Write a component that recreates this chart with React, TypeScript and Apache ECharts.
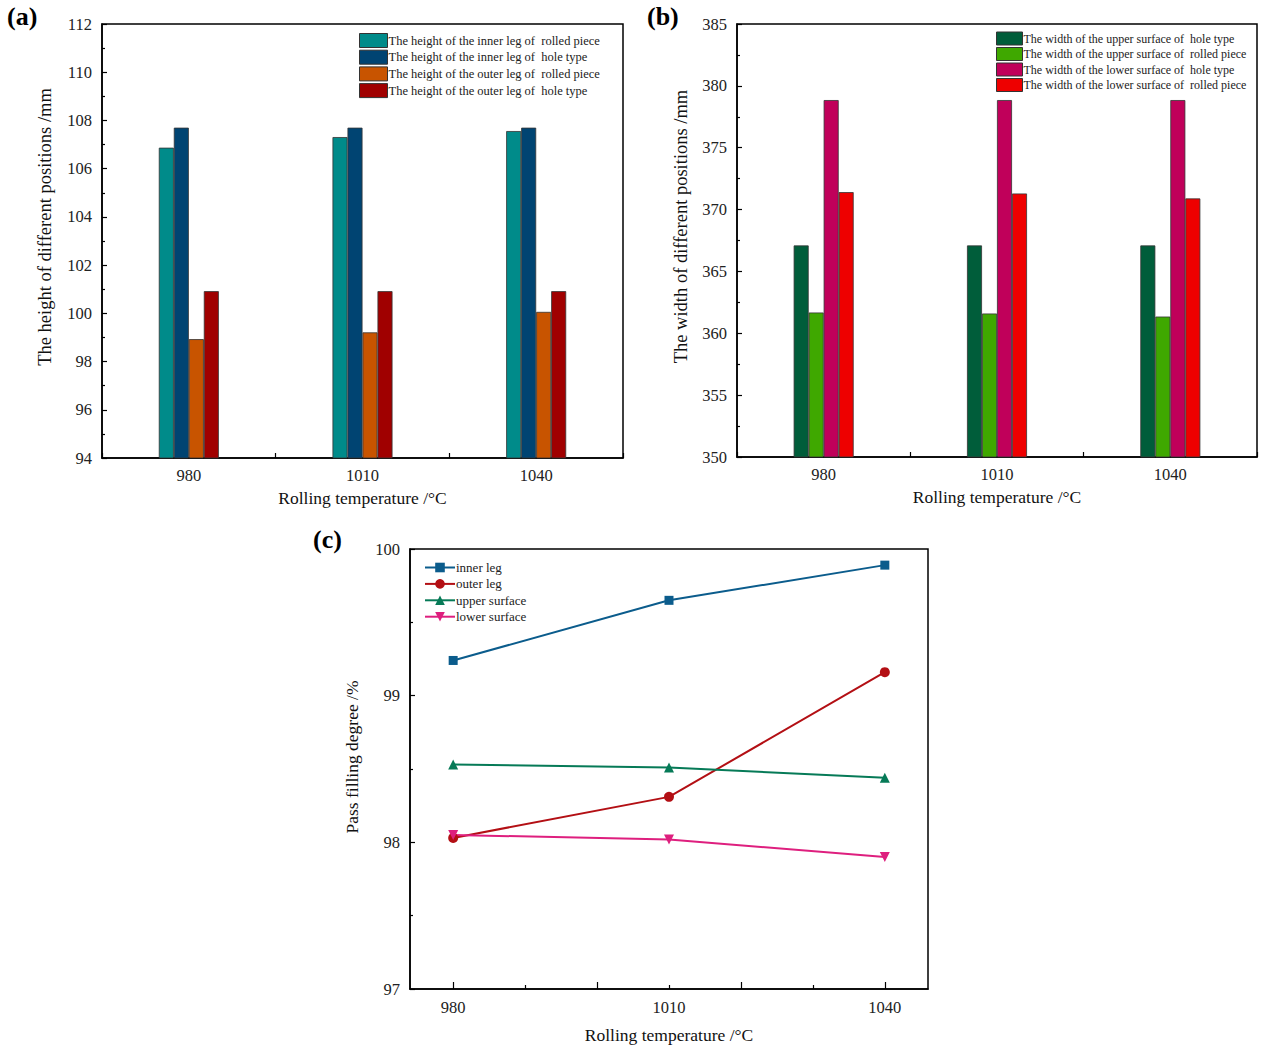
import React, { useEffect, useRef } from "react";
import * as echarts from "echarts";

const temps = ["980", "1010", "1040"];
const tempValues = [980, 1010, 1040];

const heightNames = [
  "The height of the inner leg of  rolled piece",
  "The height of the inner leg of  hole type",
  "The height of the outer leg of  rolled piece",
  "The height of the outer leg of  hole type",
];
const innerLegRolled = [106.87, 107.31, 107.56];
const innerLegHole = [107.7, 107.7, 107.7];
const outerLegRolled = [98.93, 99.21, 100.06];
const outerLegHole = [100.92, 100.92, 100.92];
const heightColors = ["#008B8A", "#004472", "#C85400", "#A00000"];

const widthNames = [
  "The width of the upper surface of  hole type",
  "The width of the upper surface of  rolled piece",
  "The width of the lower surface of  hole type",
  "The width of the lower surface of  rolled piece",
];
const upperHole = [367.1, 367.1, 367.1];
const upperRolled = [361.68, 361.6, 361.35];
const lowerHole = [378.85, 378.85, 378.85];
const lowerRolled = [371.41, 371.3, 370.9];
const widthColors = ["#005D3A", "#3FA800", "#C0005A", "#EE0000"];

const fillNames = ["inner leg", "outer leg", "upper surface", "lower surface"];
const fillInner = [99.24, 99.65, 99.89];
const fillOuter = [98.03, 98.31, 99.16];
const fillUpper = [98.53, 98.51, 98.44];
const fillLower = [98.05, 98.02, 97.9];
const fillColors = ["#0B5C8C", "#B30F14", "#067A57", "#DE1F7E"];
const fillSymbols = ["rect", "circle", "triangle", "path://M0,0 L10,0 L5,9 Z"];

const FONT = "Liberation Serif";

function pairs(vals: number[]) {
  return vals.map((v, i) => [tempValues[i], v]);
}

export default function App() {
  const ref = useRef<HTMLDivElement>(null);

  useEffect(() => {
    if (!ref.current) return;
    const chart = echarts.init(ref.current, null, { renderer: "svg" });

    const axisLine = { show: true, lineStyle: { color: "#000", width: 1.5 } };
    const labelStyle = { color: "#222", fontFamily: FONT, fontSize: 16.5 };
    const nameStyle = { color: "#111", fontFamily: FONT, fontSize: 17.5 };

    const barSeries = (name: string, data: number[], color: string, idx: number) => ({
      type: "bar",
      name,
      data,
      xAxisIndex: idx,
      yAxisIndex: idx,
      barWidth: 15,
      barGap: "0%",
      itemStyle: { color, borderColor: "#333", borderWidth: 0.8 },
    });

    const catAxis = (gridIndex: number) => ({
      type: "category",
      gridIndex,
      data: temps,
      name: "Rolling temperature /°C",
      nameLocation: "middle",
      nameGap: 31,
      nameTextStyle: nameStyle,
      axisLine,
      axisTick: { show: true, inside: true, length: 5, lineStyle: { color: "#000", width: 1.2 } },
      axisLabel: { ...labelStyle, margin: 9 },
      splitLine: { show: false },
    });

    const valAxis = (
      gridIndex: number,
      min: number,
      max: number,
      interval: number,
      name: string,
      nameGap: number,
      size: number,
      shift: number
    ) => ({
      type: "value",
      gridIndex,
      min,
      max,
      interval,
      name,
      nameLocation: "middle",
      nameGap,
      nameTextStyle: { ...nameStyle, fontSize: size, padding: [0, 0, 0, shift] },
      axisLine,
      axisTick: { show: true, inside: true, length: 5, lineStyle: { color: "#000", width: 1.2 } },
      minorTick: { show: true, splitNumber: 2, length: 3, lineStyle: { color: "#000", width: 1.2 } },
      axisLabel: { ...labelStyle, margin: 10 },
      splitLine: { show: false },
    });

    const gridBase = { show: true, borderColor: "#000", borderWidth: 1.5, backgroundColor: "transparent" };

    const option: any = {
      animation: false,
      backgroundColor: "#fff",
      textStyle: { fontFamily: FONT },
      grid: [
        { ...gridBase, left: 102, top: 24, width: 521, height: 434 },
        { ...gridBase, left: 737, top: 24, width: 520, height: 433 },
        { ...gridBase, left: 410, top: 549, width: 518, height: 440 },
      ],
      xAxis: [
        catAxis(0),
        catAxis(1),
        {
          type: "value",
          gridIndex: 2,
          min: 974,
          max: 1046,
          name: "Rolling temperature /°C",
          nameLocation: "middle",
          nameGap: 37,
          nameTextStyle: nameStyle,
          axisLine,
          axisTick: {
            show: true,
            inside: true,
            length: 7,
            customValues: [980, 1000, 1020, 1040],
            lineStyle: { color: "#000", width: 1.2 },
          },
          axisLabel: {
            ...labelStyle,
            margin: 10,
            customValues: [980, 1010, 1040],
            formatter: (v: number) => String(v),
          },
          splitLine: { show: false },
        },
        {
          type: "value",
          gridIndex: 2,
          min: 974,
          max: 1046,
          position: "bottom",
          axisLine: { show: false },
          axisTick: {
            show: true,
            inside: true,
            length: 4,
            customValues: [990, 1010, 1030],
            lineStyle: { color: "#000", width: 1.2 },
          },
          axisLabel: { show: false },
          splitLine: { show: false },
        },
      ],
      yAxis: [
        valAxis(0, 94, 112, 2, "The height of different positions /mm", 48, 18.5, 28),
        valAxis(1, 350, 385, 5, "The width of different positions /mm", 47, 18.5, 28),
        valAxis(2, 97, 100, 1, "Pass filling degree /%", 49, 17.5, 24),
      ],
      legend: [
        {
          data: heightNames,
          orient: "vertical",
          left: 359,
          top: 33,
          padding: 0,
          icon: "rect",
          itemWidth: 28,
          itemHeight: 14,
          itemGap: 1.7,
          itemStyle: { borderColor: "#333", borderWidth: 1 },
          textStyle: { fontFamily: FONT, fontSize: 12.5, lineHeight: 14, color: "#222", padding: [0, 0, 0, -4] },
        },
        {
          data: widthNames,
          orient: "vertical",
          left: 996,
          top: 31.5,
          padding: 0,
          icon: "rect",
          itemWidth: 26,
          itemHeight: 13,
          itemGap: 1.5,
          itemStyle: { borderColor: "#333", borderWidth: 1 },
          textStyle: { fontFamily: FONT, fontSize: 12, lineHeight: 13, color: "#222", padding: [0, 0, 0, -4] },
        },
        {
          data: fillNames,
          orient: "vertical",
          left: 424,
          top: 561,
          padding: 0,
          itemWidth: 30,
          itemHeight: 12,
          itemGap: 3.4,
          textStyle: { fontFamily: FONT, fontSize: 13, lineHeight: 12, color: "#222", padding: [0, 0, 0, -4] },
        },
      ],
      graphic: [
        { type: "text", left: 7, top: 3, style: { text: "(a)", font: `bold 26px ${FONT}`, fill: "#000" } },
        { type: "text", left: 647, top: 3, style: { text: "(b)", font: `bold 26px ${FONT}`, fill: "#000" } },
        { type: "text", left: 313, top: 526, style: { text: "(c)", font: `bold 26px ${FONT}`, fill: "#000" } },
      ],
      series: [
        barSeries(heightNames[0], innerLegRolled, heightColors[0], 0),
        barSeries(heightNames[1], innerLegHole, heightColors[1], 0),
        barSeries(heightNames[2], outerLegRolled, heightColors[2], 0),
        barSeries(heightNames[3], outerLegHole, heightColors[3], 0),
        barSeries(widthNames[0], upperHole, widthColors[0], 1),
        barSeries(widthNames[1], upperRolled, widthColors[1], 1),
        barSeries(widthNames[2], lowerHole, widthColors[2], 1),
        barSeries(widthNames[3], lowerRolled, widthColors[3], 1),
        ...[fillInner, fillOuter, fillUpper, fillLower].map((vals, i) => ({
          type: "line",
          name: fillNames[i],
          data: pairs(vals),
          xAxisIndex: 2,
          yAxisIndex: 2,
          symbol: fillSymbols[i],
          symbolSize: i === 0 ? 9 : 10,
          color: fillColors[i],
          lineStyle: { color: fillColors[i], width: 2 },
          itemStyle: { color: fillColors[i] },
        })),
      ],
    };

    chart.setOption(option);
    return () => chart.dispose();
  }, []);

  return (
    <div
      ref={ref}
      style={{ position: "absolute", left: 0, top: 0, width: 1266, height: 1050 }}
    />
  );
}
